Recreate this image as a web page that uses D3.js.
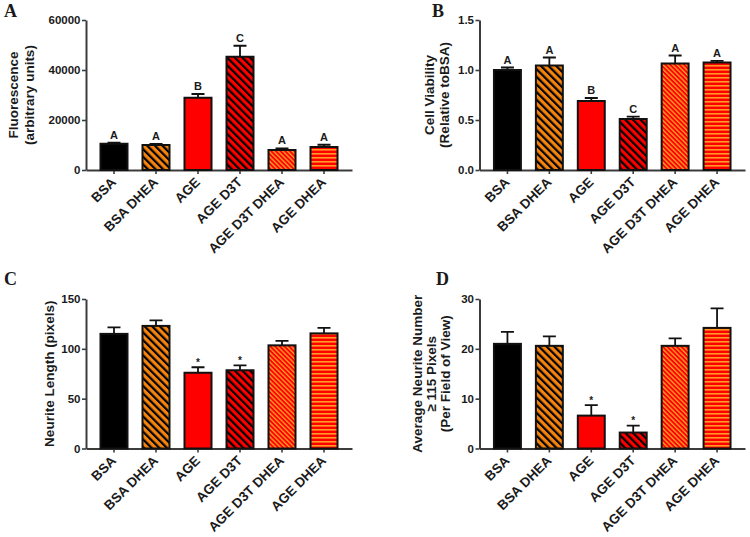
<!DOCTYPE html>
<html>
<head>
<meta charset="utf-8">
<script src="https://cdn.jsdelivr.net/npm/d3@7"></script>
<style>
  body { margin: 0; background: #fff; }
  svg text { font-family: "Liberation Sans", Arial, sans-serif; font-weight: bold; fill: #1a1a1a; }
</style>
</head>
<body>
<svg id="chart" width="750" height="537"></svg>
<script>
// ---------- data ----------
const categories = ["BSA", "BSA DHEA", "AGE", "AGE D3T", "AGE D3T DHEA", "AGE DHEA"];

const fluorescence    = [10500, 10000, 28900, 45300, 8000, 9200];
const fluorescenceSem = [400, 400, 1500, 4400, 650, 900];
const fluorescenceLetters = ["A", "A", "B", "C", "A", "A"];
const fluorescenceTicks = [0, 20000, 40000, 60000];

const viability    = [1.00, 1.045, 0.69, 0.51, 1.065, 1.075];
const viabilitySem = [0.025, 0.08, 0.03, 0.023, 0.08, 0.017];
const viabilityLetters = ["A", "A", "B", "C", "A", "A"];
const viabilityTicks = [0, 0.5, 1.0, 1.5];

const neuriteLength    = [115, 123, 76, 78.5, 103.5, 115.5];
const neuriteLengthSem = [6.5, 5.5, 5.5, 5, 4.5, 5.5];
const neuriteLengthMarks = ["", "", "*", "*", "", ""];
const neuriteLengthTicks = [0, 50, 100, 150];

const neuriteNumber    = [21, 20.6, 6.6, 3.2, 20.6, 24.2];
const neuriteNumberSem = [2.4, 1.9, 2.1, 1.4, 1.5, 3.9];
const neuriteNumberMarks = ["", "", "*", "*", "", ""];
const neuriteNumberTicks = [0, 10, 20, 30];

// ---------- styles ----------
const fills = ["#000000", "url(#pBsaDhea)", "#ff0000", "url(#pAgeD3t)", "url(#pAgeD3tDhea)", "url(#pAgeDhea)"];
const ORANGE = "#f5840e";
const ORANGE2 = "#ff9a22";
const RED = "#ff0000";

const svg = d3.select("#chart");
const defs = svg.append("defs");

function diagPattern(id, bg, fg, period, stripe) {
  const p = defs.append("pattern").attr("id", id)
    .attr("patternUnits", "userSpaceOnUse")
    .attr("width", period).attr("height", period)
    .attr("patternTransform", "rotate(-45)");
  p.append("rect").attr("width", period).attr("height", period).attr("fill", bg);
  p.append("rect").attr("width", stripe).attr("height", period).attr("fill", fg);
}
diagPattern("pBsaDhea", ORANGE, "#000", 5.4, 2.2);
diagPattern("pAgeD3t", RED, "#000", 5.4, 2.2);
diagPattern("pAgeD3tDhea", RED, ORANGE2, 3.3, 1.4);
{
  const p = defs.append("pattern").attr("id", "pAgeDhea")
    .attr("patternUnits", "userSpaceOnUse").attr("width", 4).attr("height", 4);
  p.append("rect").attr("width", 4).attr("height", 4).attr("fill", RED);
  p.append("rect").attr("y", 1).attr("width", 4).attr("height", 1.6).attr("fill", ORANGE2);
}

function panel(cfg) {
  const g = svg.append("g");
  const x = d3.scaleBand().domain(categories).range([cfg.x0, cfg.x1])
    .paddingInner(0.357).paddingOuter(0.345);
  const y = d3.scaleLinear().domain([0, cfg.max]).range([cfg.yBot, cfg.yTop]);

  // axes
  const ya = g.append("g").attr("transform", `translate(${cfg.x0},0)`)
    .call(d3.axisLeft(y).tickValues(cfg.ticks).tickFormat(cfg.fmt).tickSize(4).tickSizeOuter(0).tickPadding(1.5));
  const xa = g.append("g").attr("transform", `translate(0,${cfg.yBot})`)
    .call(d3.axisBottom(x).tickSize(4).tickSizeOuter(0));
  [ya, xa].forEach(a => {
    a.select(".domain").attr("stroke", "#3c3c3c").attr("stroke-width", 2);
    a.selectAll(".tick line").attr("stroke", "#3c3c3c").attr("stroke-width", 1.6);
    a.selectAll("text").attr("fill", "#1a1a1a");
  });
  ya.selectAll("text").style("font-size", "11.5px").style("font-family", "'Liberation Sans', Arial, sans-serif").style("font-weight", "bold");
  xa.selectAll("text")
    .style("font-size", "13.5px").style("font-family", "'Liberation Sans', Arial, sans-serif").style("font-weight", "bold")
    .attr("text-anchor", "end").attr("dy", null).attr("y", null)
    .attr("transform", "translate(3,13) rotate(-45)");

  // bars
  g.selectAll(".bar").data(categories).enter().append("rect")
    .attr("x", d => x(d)).attr("width", x.bandwidth())
    .attr("y", (d, i) => y(cfg.mean[i]))
    .attr("height", (d, i) => y(0) - y(cfg.mean[i]))
    .attr("fill", (d, i) => fills[i])
    .attr("stroke", "#111").attr("stroke-width", 2);

  // error bars (upper)
  const cx = d => x(d) + x.bandwidth() / 2;
  g.selectAll(".err").data(categories).enter().append("path")
    .attr("d", (d, i) => {
      const y1 = y(cfg.mean[i]), y2 = y(cfg.mean[i] + cfg.sem[i]);
      return `M${cx(d)},${y1}V${y2}M${cx(d) - 6.5},${y2}H${cx(d) + 6.5}`;
    })
    .attr("fill", "none").attr("stroke", "#111").attr("stroke-width", 1.8);

  // annotations
  g.selectAll(".ann").data(categories).enter().append("text")
    .attr("x", d => cx(d))
    .attr("y", (d, i) => y(cfg.mean[i] + cfg.sem[i]) - cfg.annGap)
    .attr("text-anchor", "middle")
    .style("font-size", cfg.annSize)
    .text((d, i) => cfg.marks[i]);

  // y title
  const cy = (cfg.yTop + cfg.yBot) / 2;
  cfg.title.forEach((t, i) => {
    g.append("text")
      .attr("transform", `translate(${cfg.titleX[i]},${cy}) rotate(-90)`)
      .attr("text-anchor", "middle").style("font-size", "13.5px").text(t);
  });

  // panel letter
  g.append("text").attr("x", cfg.letterX).attr("y", cfg.letterY)
    .style("font-family", "'Liberation Serif', 'Times New Roman', serif")
    .style("font-size", "18px").style("font-weight", "bold").attr("fill", "#000")
    .text(cfg.letter);
}

panel({ x0: 86, x1: 352, yTop: 20, yBot: 170, max: 60000, ticks: fluorescenceTicks, fmt: d3.format("d"),
  mean: fluorescence, sem: fluorescenceSem, marks: fluorescenceLetters, annGap: 4, annSize: "11px",
  title: ["Fluorescence", "(arbitrary units)"], titleX: [17.5, 34], letter: "A", letterX: 4, letterY: 17 });

panel({ x0: 479.5, x1: 745, yTop: 20, yBot: 170, max: 1.5, ticks: viabilityTicks, fmt: d3.format(".1f"),
  mean: viability, sem: viabilitySem, marks: viabilityLetters, annGap: 4, annSize: "11px",
  title: ["Cell Viability", "(Relative toBSA)"], titleX: [434, 449], letter: "B", letterX: 432, letterY: 17 });

panel({ x0: 86, x1: 352, yTop: 299, yBot: 448.5, max: 150, ticks: neuriteLengthTicks, fmt: d3.format("d"),
  mean: neuriteLength, sem: neuriteLengthSem, marks: neuriteLengthMarks, annGap: 1.5, annSize: "10px",
  title: ["Neurite Length (pixels)"], titleX: [54], letter: "C", letterX: 4, letterY: 285 });

panel({ x0: 479.5, x1: 745, yTop: 299, yBot: 448.5, max: 30, ticks: neuriteNumberTicks, fmt: d3.format("d"),
  mean: neuriteNumber, sem: neuriteNumberSem, marks: neuriteNumberMarks, annGap: 1.5, annSize: "10px",
  title: ["Average Neurite Number", "\u2265 115 Pixels", "(Per Field of View)"], titleX: [421.5, 436, 450],
  letter: "D", letterX: 436, letterY: 285 });
</script>
</body>
</html>
